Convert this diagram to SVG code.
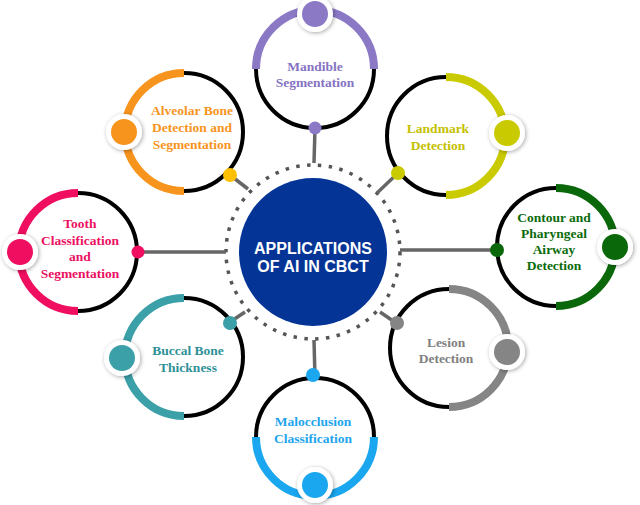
<svg xmlns="http://www.w3.org/2000/svg" width="640" height="505" viewBox="0 0 640 505">
<defs>
<filter id="sh" x="-50%" y="-50%" width="200%" height="200%">
<feDropShadow dx="1" dy="1" stdDeviation="2" flood-color="#000" flood-opacity="0.35"/>
</filter>
</defs>
<style>
.ring{fill:#fff;stroke:#000;stroke-width:4}
.arc{fill:none;stroke-width:8}
.halo{fill:#fff;filter:url(#sh)}
.lbl{font-family:"Liberation Serif","Times New Roman",serif;font-weight:bold;font-size:13.5px;text-anchor:middle}
.ctr{font-family:"Liberation Sans",Arial,sans-serif;font-weight:bold;font-size:16px;fill:#fff;text-anchor:middle}
.con{stroke:#666;stroke-width:3.5;fill:none}
</style>
<rect width="640" height="505" fill="#fff"/>
<g id="connectors">
<circle cx="313" cy="252" r="87" fill="none" stroke="#555" stroke-width="3.5" stroke-dasharray="3.5 7.4"/>
<line class="con" x1="315" y1="128" x2="314" y2="163"/>
<line class="con" x1="230" y1="175" x2="248" y2="189"/>
<line class="con" x1="398" y1="173" x2="377" y2="193"/>
<line class="con" x1="137" y1="252" x2="226" y2="252"/>
<line class="con" x1="497" y1="250" x2="400" y2="250"/>
<line class="con" x1="230" y1="322" x2="245" y2="312"/>
<line class="con" x1="396" y1="323" x2="380" y2="312"/>
<line class="con" x1="315" y1="378" x2="314" y2="340"/>
</g>
<g id="center">
<circle cx="313" cy="252" r="74" fill="#043596"/>
<text class="ctr" x="313" y="254">APPLICATIONS</text>
<text class="ctr" x="313" y="272">OF AI IN CBCT</text>
</g>
<g id="mandible" transform="translate(315,69)">
<circle class="ring" r="59"/>
<path class="arc" stroke="#8B79C6" d="M-59 0A59 59 0 0 1 59 0"/>
<circle class="halo" cx="0" cy="-55" r="18"/>
<circle cx="0" cy="-55" r="13" fill="#8B79C6"/>
<circle cx="0" cy="59" r="6.5" fill="#8B79C6"/>
<text class="lbl" fill="#8673C2" x="0" y="2">Mandible</text>
<text class="lbl" fill="#8673C2" x="0" y="18">Segmentation</text>
</g>
<g id="alveolar" transform="translate(184,132)">
<circle class="ring" r="59"/>
<path class="arc" stroke="#F7941D" d="M0 -59A59 59 0 0 0 0 59"/>
<circle class="halo" cx="-60" cy="0" r="18"/>
<circle cx="-60" cy="0" r="13" fill="#F7941D"/>
<circle cx="46" cy="43" r="7" fill="#FFC000"/>
<text class="lbl" fill="#F7941D" x="8" y="-17">Alveolar Bone</text>
<text class="lbl" fill="#F7941D" x="8" y="0">Detection and</text>
<text class="lbl" fill="#F7941D" x="8" y="17">Segmentation</text>
</g>
<g id="landmark" transform="translate(446,136)">
<circle class="ring" r="59"/>
<path class="arc" stroke="#CACA00" d="M0 -59A59 59 0 0 1 0 59"/>
<circle class="halo" cx="61" cy="-3" r="18"/>
<circle cx="61" cy="-3" r="13" fill="#CACA00"/>
<circle cx="-48" cy="37" r="7" fill="#CACA00"/>
<text class="lbl" fill="#C4C000" x="-8" y="-3">Landmark</text>
<text class="lbl" fill="#C4C000" x="-8" y="14">Detection</text>
</g>
<g id="tooth" transform="translate(78,252)">
<circle class="ring" r="59"/>
<path class="arc" stroke="#EF0E60" d="M0 -59A59 59 0 0 0 0 59"/>
<circle class="halo" cx="-58" cy="0" r="18"/>
<circle cx="-58" cy="0" r="13" fill="#EF0E60"/>
<circle cx="60" cy="0" r="6.5" fill="#EF0E60"/>
<text class="lbl" fill="#EC0F62" x="2" y="-24">Tooth</text>
<text class="lbl" fill="#EC0F62" x="2" y="-7">Classification</text>
<text class="lbl" fill="#EC0F62" x="2" y="9">and</text>
<text class="lbl" fill="#EC0F62" x="2" y="26">Segmentation</text>
</g>
<g id="contour" transform="translate(556,247)">
<circle class="ring" r="59"/>
<path class="arc" stroke="#0A680A" d="M0 -59A59 59 0 0 1 0 59"/>
<circle class="halo" cx="59" cy="0" r="18"/>
<circle cx="59" cy="0" r="13" fill="#0A680A"/>
<circle cx="-59" cy="3" r="7" fill="#0A680A"/>
<text class="lbl" fill="#0A6B0A" x="-2" y="-25">Contour and</text>
<text class="lbl" fill="#0A6B0A" x="-2" y="-9">Pharyngeal</text>
<text class="lbl" fill="#0A6B0A" x="-2" y="7">Airway</text>
<text class="lbl" fill="#0A6B0A" x="-2" y="23">Detection</text>
</g>
<g id="buccal" transform="translate(184,357)">
<circle class="ring" r="59"/>
<path class="arc" stroke="#3BA0A8" d="M0 -59A59 59 0 0 0 0 59"/>
<circle class="halo" cx="-62" cy="1" r="18"/>
<circle cx="-62" cy="1" r="13" fill="#3BA0A8"/>
<circle cx="46" cy="-34" r="7" fill="#3BA0A8"/>
<text class="lbl" fill="#2E9098" x="4" y="-2">Buccal Bone</text>
<text class="lbl" fill="#2E9098" x="4" y="15">Thickness</text>
</g>
<g id="lesion" transform="translate(449,348)">
<circle class="ring" r="59"/>
<path class="arc" stroke="#858585" d="M0 -59A59 59 0 0 1 0 59"/>
<circle class="halo" cx="58" cy="4" r="18"/>
<circle cx="58" cy="4" r="13" fill="#858585"/>
<circle cx="-52" cy="-25" r="7" fill="#858585"/>
<text class="lbl" fill="#808080" x="-3" y="-1">Lesion</text>
<text class="lbl" fill="#808080" x="-3" y="15">Detection</text>
</g>
<g id="malocclusion" transform="translate(315,437)">
<circle class="ring" r="59"/>
<path class="arc" stroke="#1AA7EF" d="M-59 0A59 59 0 0 0 59 0"/>
<circle class="halo" cx="0" cy="48" r="18"/>
<circle cx="0" cy="48" r="13" fill="#1AA7EF"/>
<circle cx="-2" cy="-62" r="7" fill="#1AA7EF"/>
<text class="lbl" fill="#1EA5EE" x="-2" y="-11">Malocclusion</text>
<text class="lbl" fill="#1EA5EE" x="-2" y="6">Classification</text>
</g>
</svg>
